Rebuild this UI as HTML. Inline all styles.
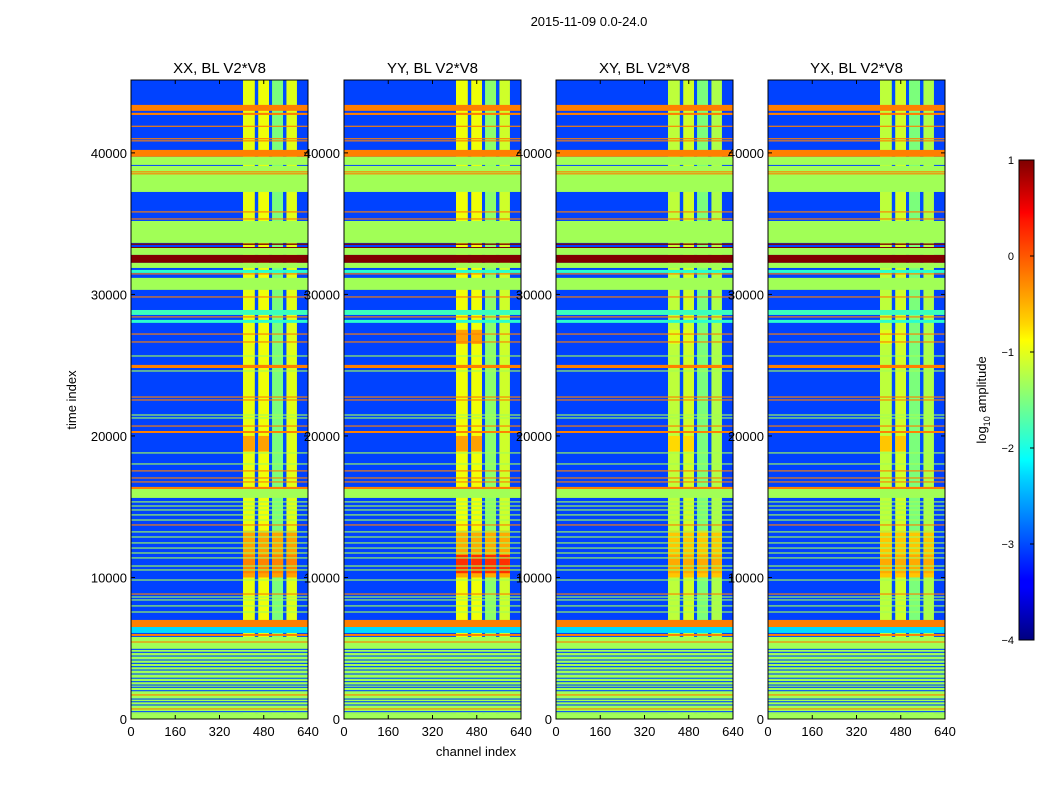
<!DOCTYPE html>
<html><head><meta charset="utf-8">
<style>
body{margin:0;background:#fff;font-family:"Liberation Sans",sans-serif;}
svg text{font-family:"Liberation Sans",sans-serif;}
</style></head>
<body>
<svg id="chart" width="1050" height="800" viewBox="0 0 1050 800" xmlns="http://www.w3.org/2000/svg">
<defs>
<linearGradient id="jet" x1="0" y1="1" x2="0" y2="0">
<stop offset="0" stop-color="#00007f"/><stop offset="0.11" stop-color="#0000ff"/><stop offset="0.125" stop-color="#0000ff"/>
<stop offset="0.34" stop-color="#00d5ff"/><stop offset="0.375" stop-color="#00ffff"/><stop offset="0.5" stop-color="#7fff7f"/>
<stop offset="0.625" stop-color="#ffff00"/><stop offset="0.66" stop-color="#ffd500"/><stop offset="0.875" stop-color="#ff1400"/>
<stop offset="0.89" stop-color="#ff0000"/><stop offset="1" stop-color="#7f0000"/>
</linearGradient>
</defs>
<text x="589" y="26" font-size="13" text-anchor="middle">2015-11-09 0.0-24.0</text>
<text x="476" y="756" font-size="13" text-anchor="middle">channel index</text>
<text x="0" y="0" font-size="13" text-anchor="middle" transform="translate(76,400) rotate(-90)">time index</text>
<g id="panels"></g>
<g id="cbar"></g>
</svg>
<script>
// ---- data ----
const panelTitles = ["XX, BL V2*V8","YY, BL V2*V8","XY, BL V2*V8","YX, BL V2*V8"];
const xTicks = [0,160,320,480,640];
const yTicks = [0,10000,20000,30000,40000];
const cbTicks = [1,0,-1,-2,-3,-4];
const backgroundValue = -3.05;
// RFI channel bands: start channel, end channel, value per panel
const chanStart = [405,448,460,499,510,550,562];
const chanEnd   = [448,460,499,510,550,562,600];
const chanValXX = [-0.85,-3,-0.8,-3,-1.5,-3,-0.9];
const chanValYY = [-0.8,-3,-0.8,-3,-1.4,-3,-1.0];
const chanValXY = [-1.1,-3,-1.0,-3,-1.5,-3,-1.2];
const chanValYX = [-1.1,-3,-1.0,-3,-1.5,-3,-1.2];
// patches in RFI region: t0, t1, c0, c1
const patchT0 = [10000,18900,26500,10300];
const patchT1 = [13300,20000,27500,11600];
const patchC0 = [405,405,405,405];
const patchC1 = [600,500,500,600];
const patchValXX = [-0.3,-0.3,-0.8,-0.15];
const patchValYY = [-0.35,-0.3,-0.3,0.3];
const patchValXY = [-0.5,-0.6,-0.9,-0.35];
const patchValYX = [-0.5,-0.5,-0.9,-0.35];
// full-width time bands: start, end, value
const bandStart = [42970,42680,41840,40960,40810,39720,39150,37240,38620,38480,35790,35290,33640,33500,33250,33000,32790,32230,31870,31520,31410,30320,29780,28550,27990,28370,27160,26600,25610,24800,24550,22710,22500,21440,21230,20660,20210,18760,17980,17490,16990,16710,16250,15620,15300,15010,14730,14380,14020,13670,13180,12820,12400,12040,11690,11340,10770,10490,9780,8790,8580,8370,7950,7520,6500,6080,5870,420,4880,4670,4410,4130,3890,3660,3420,3140,2840,2600,2360,2200,1960,1370,1180,950,480,5400,1660,670,0];
const bandEnd   = [43390,42830,41920,41040,40890,40210,39720,39080,38700,38560,35870,35370,35190,33600,33350,33100,33280,32790,32230,31730,31490,31170,29860,28900,28200,28450,27240,26680,25690,25020,24630,22790,22580,21520,21310,20740,20350,18840,18060,17570,17070,16790,16400,16250,15380,15090,14810,14460,14100,13750,13260,12900,12480,12120,11770,11420,10850,10570,9860,8870,8660,8450,8030,7600,7000,6500,6010,5800,4960,4750,4490,4210,3970,3740,3500,3220,2920,2680,2440,2280,2040,1450,1260,1030,560,5480,1740,750,420];
const bandValue = [-0.12,-0.12,-0.12,-0.12,-0.12,-0.12,-1.27,-1.27,-0.12,-0.12,-0.12,-0.12,-1.27,1,1,1,-1.27,1,-1.27,-2,-0.12,-1.27,-0.12,-1.9,-2,-0.12,-0.12,-0.12,-1.27,-0.12,-1.27,-0.12,-0.12,-1.27,-1.27,-0.12,-0.12,-1.27,-1.27,-0.12,-0.12,-0.12,-0.12,-1.27,-1.27,-1.27,-1.27,-1.27,-1.27,-0.12,-1.27,-1.27,-1.27,-1.27,-1.27,-1.27,-1.27,-1.27,-1.27,-0.12,-1.27,-1.27,-1.27,-1.27,-0.12,-2.3,-0.12,-1.27,-3,-3,-3,-3,-3,-3,-3,-3,-3,-3,-3,-3,-3,-3,-3,-3,-3,-0.12,-0.12,-0.12,-1.27];
// ---- geometry ----
const panelLefts = [131,344,556,768];
const PW = 177, PT = 80, PB = 719, TMAX = 45150, CMAX = 640, VMIN = -4, VMAX = 1;
const chanVals = [chanValXX,chanValYY,chanValXY,chanValYX];
const patchVals = [patchValXX,patchValYY,patchValXY,patchValYX];
const NS = "http://www.w3.org/2000/svg";
const JR = [[0,0],[0.35,0],[0.66,1],[0.89,1],[1,0.5]];
const JG = [[0,0],[0.125,0],[0.375,1],[0.64,1],[0.91,0],[1,0]];
const JB = [[0,0.5],[0.11,1],[0.34,1],[0.65,0],[1,0]];
function interp(pts, f){
  for (let i = 1; i < pts.length; i++) {
    if (f <= pts[i][0]) { const a = pts[i-1], b = pts[i]; return a[1] + (b[1]-a[1]) * (f-a[0]) / (b[0]-a[0]); }
  }
  return pts[pts.length-1][1];
}
function jet(v){
  const f = Math.max(0, Math.min(1, (v-VMIN)/(VMAX-VMIN)));
  return `rgb(${Math.round(interp(JR,f)*255)},${Math.round(interp(JG,f)*255)},${Math.round(interp(JB,f)*255)})`;
}
function mk(tag, attrs, parent){
  const e = document.createElementNS(NS, tag);
  for (const k in attrs) e.setAttribute(k, attrs[k]);
  parent.appendChild(e); return e;
}
const panelsG = document.getElementById('panels');
panelLefts.forEach((L, p) => {
  const xs = c => L + c / CMAX * PW;
  const ys = t => PB - t / TMAX * (PB - PT);
  const g = mk('g', {}, panelsG);
  
  
  const bg = mk('rect', {x:L, y:PT, width:PW, height:PB-PT, fill:jet(backgroundValue)}, g);
  
  
  chanStart.forEach((c0, i) => {
    const r = mk('rect', {x:xs(c0), y:PT, width:xs(chanEnd[i])-xs(c0), height:PB-PT, fill:jet(chanVals[p][i])}, g);
    
    
  });
  patchT0.forEach((t0, i) => {
    for (let c = 0; c < chanStart.length; c++) {
      if (chanVals[p][c] < -2) continue;
      const a = Math.max(chanStart[c], patchC0[i]), b = Math.min(chanEnd[c], patchC1[i]);
      if (b <= a) continue;
      const r = mk('rect', {x:xs(a), y:ys(patchT1[i]), width:xs(b)-xs(a), height:ys(t0)-ys(patchT1[i]), fill:jet(patchVals[p][i])}, g);
      
      
    }
  });
  bandStart.forEach((t0, i) => {
    const h = Math.max(1, ys(t0) - ys(bandEnd[i]));
    const r = mk('rect', {x:L, y:ys(bandEnd[i]), width:PW, height:h, fill:jet(bandValue[i])}, g);
    
    
  });
  const fr = mk('rect', {x:L, y:PT, width:PW, height:PB-PT, fill:'none', stroke:'#000', 'stroke-width':1}, g);
  
  
  const tt = mk('text', {x:L+PW/2, y:PT-7, 'font-size':15, 'text-anchor':'middle'}, g);
  tt.textContent = panelTitles[p];
  
  
  xTicks.forEach(v => {
    mk('line', {x1:xs(v), x2:xs(v), y1:PB, y2:PB-4, stroke:'#000'}, g);
    mk('line', {x1:xs(v), x2:xs(v), y1:PT, y2:PT+4, stroke:'#000'}, g);
    const t = mk('text', {x:xs(v), y:PB+17, 'font-size':13, 'text-anchor':'middle'}, g);
    t.textContent = v;
    
    
  });
  yTicks.forEach(v => {
    mk('line', {x1:L, x2:L+4, y1:ys(v), y2:ys(v), stroke:'#000'}, g);
    mk('line', {x1:L+PW, x2:L+PW-4, y1:ys(v), y2:ys(v), stroke:'#000'}, g);
    const t = mk('text', {x:L-4, y:ys(v)+5, 'font-size':13, 'text-anchor':'end'}, g);
    t.textContent = v;
    
    
  });
});
// colorbar
const cb = document.getElementById('cbar');
const CBX = 1019, CBW = 15, CBT = 160, CBB = 640;
const cy = v => CBB - (v - VMIN) / (VMAX - VMIN) * (CBB - CBT);
const cr = mk('rect', {x:CBX, y:CBT, width:CBW, height:CBB-CBT, fill:'url(#jet)', stroke:'#000', 'stroke-width':1}, cb);


cbTicks.forEach(v => {
  mk('line', {x1:CBX+CBW-4, x2:CBX+CBW, y1:cy(v), y2:cy(v), stroke:'#000'}, cb);
  const t = mk('text', {x:CBX-5, y:cy(v)+4, 'font-size':11, 'text-anchor':'end'}, cb);
  t.textContent = v < 0 ? '\u2212' + (-v) : v;
  
  
});
const lab = mk('text', {x:0, y:0, 'font-size':13, 'text-anchor':'middle', transform:'translate(986,400) rotate(-90)'}, cb);
lab.innerHTML = 'log<tspan font-size="9" dy="4">10</tspan><tspan dy="-4"> amplitude</tspan>';


</script>
</body></html>
